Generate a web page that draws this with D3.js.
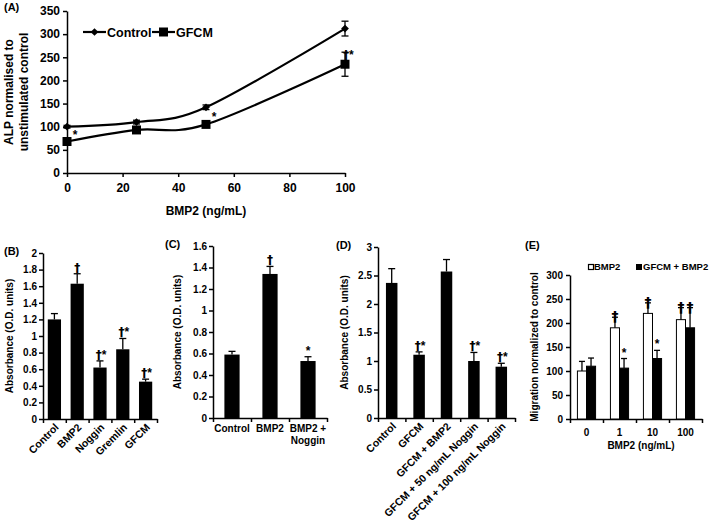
<!DOCTYPE html>
<html><head><meta charset="utf-8">
<script src="https://cdn.jsdelivr.net/npm/d3@7"></script>
<style>
body{margin:0;background:#fff;}
svg text{font-family:"Liberation Sans", Arial, sans-serif;font-weight:bold;fill:#000;}
svg text.mark{font-family:"DejaVu Sans", "Liberation Sans", sans-serif;}
</style></head><body>
<svg id="c" width="709" height="522"></svg>
<script>
// ---------- Panel A data ----------
const aDoses = [0, 25, 50, 100];
const aControl = [100, 110, 142, 312];
const aControlErr = [3, 4, 5, 16];
const aGfcm = [68, 93, 105, 235];
const aGfcmErr = [4, 4, 4, 26];
const aGfcmMarks = ["*", "", "*", "\u2020*"];
const aXTicks = [0, 20, 40, 60, 80, 100];
const aYTicks = [0, 50, 100, 150, 200, 250, 300, 350];

// ---------- Panel B data ----------
const bCats = ["Control", "BMP2", "Noggin", "Gremlin", "GFCM"];
const bVals = [1.2, 1.63, 0.62, 0.84, 0.45];
const bErr = [0.07, 0.12, 0.08, 0.13, 0.03];
const bMarks = ["", "\u2020", "\u2020*", "\u2020*", "\u2020*"];
const bYTicks = [0, 0.2, 0.4, 0.6, 0.8, 1, 1.2, 1.4, 1.6, 1.8, 2];

// ---------- Panel C data ----------
const cCats = [["Control"], ["BMP2"], ["BMP2 +", "Noggin"]];
const cVals = [0.59, 1.34, 0.53];
const cErr = [0.03, 0.07, 0.04];
const cMarks = ["", "\u2020", "*"];
const cYTicks = [0, 0.2, 0.4, 0.6, 0.8, 1, 1.2, 1.4, 1.6];

// ---------- Panel D data ----------
const dCats = ["Control", "GFCM", "GFCM + BMP2", "GFCM + 50 ng/mL Noggin", "GFCM + 100 ng/mL Noggin"];
const dVals = [2.37, 1.11, 2.57, 1.0, 0.9];
const dErr = [0.25, 0.05, 0.21, 0.15, 0.06];
const dMarks = ["", "\u2020*", "", "\u2020*", "\u2020*"];
const dYTicks = [0, 0.5, 1, 1.5, 2, 2.5, 3];

// ---------- Panel E data ----------
const eDoses = ["0", "1", "10", "100"];
const eBmp2 = [100, 190, 220, 207];
const eBmp2Err = [20, 22, 22, 25];
const eGfcm = [110, 106, 126, 190];
const eGfcmErr = [17, 20, 17, 42];
const eBmp2Marks = ["", "\u2020", "\u2020", "\u2020"];
const eGfcmMarks = ["", "*", "*", "\u2020"];
const eYTicks = [0, 50, 100, 150, 200, 250, 300];

const svg = d3.select("#c");
const fmt = d => String(+(+d).toFixed(2));

function styleAxis(g, fs) {
  g.selectAll("path.domain").attr("stroke", "#000").attr("stroke-width", 1.5);
  g.selectAll(".tick line").attr("stroke", "#000").attr("stroke-width", 1.5);
  g.selectAll("text").attr("font-size", fs).attr("fill", "#000")
    .style("font-family", '"Liberation Sans", Arial, sans-serif').style("font-weight", "bold");
}

function label(txt, x, y, fs, anchor, rot) {
  const t = svg.append("text").attr("font-size", fs).attr("text-anchor", anchor || "middle")
    .attr("transform", `translate(${x},${y})` + (rot ? ` rotate(${rot})` : ""));
  if (Array.isArray(txt)) {
    txt.forEach((s, i) => t.append("tspan").attr("x", 0).attr("dy", i === 0 ? 0 : "1.15em").text(s));
  } else t.text(txt);
  return t;
}
// significance mark: dagger drawn in DejaVu, star in Liberation
function mark(txt, x, y, fs, anchor) {
  const t = svg.append("text").attr("font-size", fs).attr("text-anchor", anchor || "middle")
    .attr("transform", `translate(${x},${y}) rotate(0.01)`);
  for (const ch of txt) {
    const sp = t.append("tspan").text(ch);
    if (ch === "\u2020") sp.attr("class", "mark").style("font-family", '"DejaVu Sans", sans-serif');
  }
  return t;
}

// ================= Panel A =================
(function () {
  const x = d3.scaleLinear().domain([0, 100]).range([67, 345]);
  const y = d3.scaleLinear().domain([0, 350]).range([173, 11]);
  const g = svg.append("g");
  g.append("g").attr("transform", "translate(0,173)")
    .call(d3.axisBottom(x).tickValues(aXTicks).tickSize(4).tickSizeOuter(0).tickPadding(6))
    .call(s => styleAxis(s, 12));
  g.append("g").attr("transform", "translate(67,0)")
    .call(d3.axisLeft(y).tickValues(aYTicks).tickSize(4).tickSizeOuter(0).tickPadding(3))
    .call(s => styleAxis(s, 12));

  const line = d3.line().curve(d3.curveCardinal.tension(0));
  const series = [
    { v: aControl, e: aControlErr, sym: "diamond" },
    { v: aGfcm, e: aGfcmErr, sym: "square" }
  ];
  series.forEach(s => {
    const pts = aDoses.map((d, i) => [x(d), y(s.v[i])]);
    g.append("path").attr("d", line(pts)).attr("fill", "none").attr("stroke", "#000").attr("stroke-width", 2.2);
    aDoses.forEach((d, i) => {
      const cx = x(d), lo = y(s.v[i] - s.e[i]), hi = y(s.v[i] + s.e[i]);
      g.append("line").attr("x1", cx).attr("x2", cx).attr("y1", lo).attr("y2", hi).attr("stroke", "#000").attr("stroke-width", 1.3);
      [lo, hi].forEach(yy => g.append("line").attr("x1", cx - 3.5).attr("x2", cx + 3.5).attr("y1", yy).attr("y2", yy).attr("stroke", "#000").attr("stroke-width", 1.3));
      if (s.sym === "diamond") {
        g.append("path").attr("d", d3.symbol(d3.symbolSquare, 30)()).attr("transform", `translate(${cx},${y(s.v[i])}) rotate(45)`).attr("fill", "#000");
      } else {
        g.append("path").attr("d", d3.symbol(d3.symbolSquare, 81)()).attr("transform", `translate(${cx},${y(s.v[i])})`).attr("fill", "#000");
      }
    });
  });
  aDoses.forEach((d, i) => {
    const m = aGfcmMarks[i];
    if (!m) return;
    if (i === 3) mark(m, x(d) - 2, y(aGfcm[i] + aGfcmErr[i]) + 7, 12, "start");
    else mark(m, x(d) + 8, y(aGfcm[i]) - 3, 12, "middle");
  });
  // legend
  g.append("line").attr("x1", 83).attr("x2", 106).attr("y1", 32).attr("y2", 32).attr("stroke", "#000").attr("stroke-width", 2.2);
  g.append("path").attr("d", d3.symbol(d3.symbolSquare, 30)()).attr("transform", "translate(94.5,32) rotate(45)");
  label("Control", 107, 36.5, 12.5, "start");
  g.append("line").attr("x1", 152).attr("x2", 175).attr("y1", 32).attr("y2", 32).attr("stroke", "#000").attr("stroke-width", 2.2);
  g.append("path").attr("d", d3.symbol(d3.symbolSquare, 81)()).attr("transform", "translate(163.5,32)");
  label("GFCM", 176, 36.5, 12.5, "start");

  label("(A)", 4, 11, 11, "start");
  label("BMP2 (ng/mL)", 206, 215, 12, "middle");
  label("ALP normalised to", 13, 92, 12, "middle", -90);
  label("unstimulated control", 28, 92, 12, "middle", -90);
})();

// ================= Bar panel helper =================
function barPanel(o) {
  const n = o.cats.length;
  const x = d3.scaleBand().domain(d3.range(n)).range([o.x0, o.x1]).paddingInner(o.pad).paddingOuter(o.pad / 2);
  const y = d3.scaleLinear().domain([0, o.ymax]).range([o.yb, o.yt]);
  const g = svg.append("g");
  g.append("g").attr("transform", `translate(${o.x0},0)`)
    .call(d3.axisLeft(y).tickValues(o.ticks).tickFormat(fmt).tickSize(4).tickSizeOuter(0).tickPadding(2))
    .call(s => styleAxis(s, 10));
  const xi = d3.scaleLinear().domain([0, n]).range([o.x0, o.x1]);
  g.append("g").attr("transform", `translate(0,${o.yb})`)
    .call(d3.axisBottom(xi).ticks(n).tickFormat("").tickSize(4).tickSizeOuter(0))
    .call(s => styleAxis(s, 10));
  o.vals.forEach((v, i) => {
    const cx = x(i) + x.bandwidth() / 2;
    g.append("rect").attr("x", x(i)).attr("width", x.bandwidth()).attr("y", y(v)).attr("height", o.yb - y(v)).attr("fill", "#000");
    const top = y(v + o.errs[i]);
    g.append("line").attr("x1", cx).attr("x2", cx).attr("y1", y(v)).attr("y2", top).attr("stroke", "#000").attr("stroke-width", 1.3);
    g.append("line").attr("x1", cx - 3.5).attr("x2", cx + 3.5).attr("y1", top).attr("y2", top).attr("stroke", "#000").attr("stroke-width", 1.3);
    if (o.marks[i]) mark(o.marks[i], cx + (o.marks[i].length > 1 ? 1 : 0), top - 2, 12, "middle");
    if (o.rot) label(o.cats[i], cx + 5, o.yb + 9, 10.5, "end", -45);
    else label(o.cats[i], cx, o.yb + 14, 10, "middle");
  });
  label(o.tag, o.tagx, o.yt + 2, 11, "start");
  label(o.ytitle, o.ytx, (o.yt + o.yb) / 2, 10, "middle", -90);
}

barPanel({ x0: 43, x1: 157, yt: 253, yb: 419, ymax: 2, ticks: bYTicks, cats: bCats, vals: bVals, errs: bErr, marks: bMarks,
  pad: 0.42, rot: true, tag: "(B)", tagx: 4, ytitle: "Absorbance (O.D. units)", ytx: 13 });
barPanel({ x0: 213, x1: 327, yt: 246, yb: 418, ymax: 1.6, ticks: cYTicks, cats: cCats, vals: cVals, errs: cErr, marks: cMarks,
  pad: 0.6, rot: false, tag: "(C)", tagx: 165, ytitle: "Absorbance (O.D. units)", ytx: 181 });
barPanel({ x0: 378, x1: 515, yt: 247, yb: 418, ymax: 3, ticks: dYTicks, cats: dCats, vals: dVals, errs: dErr, marks: dMarks,
  pad: 0.58, rot: true, tag: "(D)", tagx: 336, ytitle: "Absorbance (O.D. units)", ytx: 348 });

// ================= Panel E =================
(function () {
  const x0 = 570, x1 = 702, yt = 275, yb = 419;
  const x = d3.scaleBand().domain(eDoses).range([x0, x1]).paddingInner(0.45).paddingOuter(0.225);
  const xs = d3.scaleBand().domain(["bmp2", "gfcm"]).range([0, x.bandwidth()]);
  const y = d3.scaleLinear().domain([0, 300]).range([yb, yt]);
  const g = svg.append("g");
  g.append("g").attr("transform", `translate(${x0},0)`)
    .call(d3.axisLeft(y).tickValues(eYTicks).tickSize(4).tickSizeOuter(0).tickPadding(3))
    .call(s => styleAxis(s, 10));
  const xi = d3.scaleLinear().domain([0, eDoses.length]).range([x0, x1]);
  g.append("g").attr("transform", `translate(0,${yb})`)
    .call(d3.axisBottom(xi).ticks(eDoses.length).tickFormat("").tickSize(4).tickSizeOuter(0))
    .call(s => styleAxis(s, 10));
  const ser = [
    { key: "bmp2", v: eBmp2, e: eBmp2Err, m: eBmp2Marks, fill: "#fff" },
    { key: "gfcm", v: eGfcm, e: eGfcmErr, m: eGfcmMarks, fill: "#000" }
  ];
  eDoses.forEach((d, i) => {
    ser.forEach(s => {
      const bx = x(d) + xs(s.key), bw = xs.bandwidth(), v = s.v[i], cx = bx + bw / 2;
      g.append("rect").attr("x", bx).attr("width", bw).attr("y", y(v)).attr("height", yb - y(v))
        .attr("fill", s.fill).attr("stroke", "#000").attr("stroke-width", 1);
      const top = y(v + s.e[i]);
      g.append("line").attr("x1", cx).attr("x2", cx).attr("y1", y(v)).attr("y2", top).attr("stroke", "#000").attr("stroke-width", 1.3);
      g.append("line").attr("x1", cx - 3).attr("x2", cx + 3).attr("y1", top).attr("y2", top).attr("stroke", "#000").attr("stroke-width", 1.3);
      if (s.m[i]) mark(s.m[i], cx, s.m[i] === "*" ? top - 2 : top + 4, s.m[i] === "*" ? 12 : 14, "middle");
    });
    label(d, x(d) + x.bandwidth() / 2, yb + 17, 10, "middle");
  });
  // legend
  g.append("rect").attr("x", 588.5).attr("y", 264.5).attr("width", 5).attr("height", 5).attr("fill", "#fff").attr("stroke", "#000").attr("stroke-width", 1.2);
  label("BMP2", 594, 270, 9.5, "start");
  g.append("rect").attr("x", 636).attr("y", 264).attr("width", 6).attr("height", 6).attr("fill", "#000");
  label("GFCM + BMP2", 643, 270, 9.5, "start");
  label("(E)", 525, 249, 11, "start");
  label("BMP2 (ng/mL)", 641, 449, 10, "middle");
  label("Migration normalized to control", 538, (yt + yb) / 2, 10, "middle", -90);
})();
</script></body></html>
